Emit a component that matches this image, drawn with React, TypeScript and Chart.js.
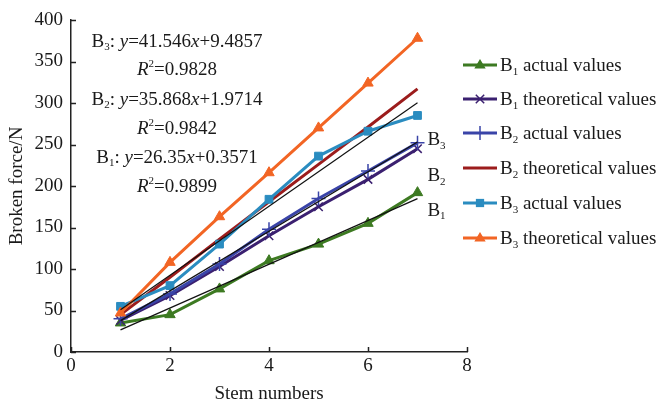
import React, { useEffect, useRef } from "react";
import { Chart, registerables } from "chart.js";

Chart.register(...registerables);

const stems = [1, 2, 3, 4, 5, 6, 7];
const b1Actual = [35, 45, 76, 110, 130, 155, 192];
const b1Theory = [38, 68, 103, 140, 175, 208, 245];
const b2Actual = [40, 70, 106, 148, 185, 218, 252];
const b2Theory = [45, 90, 136, 181, 226, 271, 317];
const b3Actual = [55, 80, 130, 184, 236, 266, 285];
const b3Theory = [47, 108, 163, 216, 270, 324, 378];
const fitX = [1, 7];
const fitB1 = [26.7, 184.8];
const fitB2 = [37.8, 253.0];
const fitB3 = [51.0, 300.3];
const xTicks = [0, 2, 4, 6, 8];
const yTicks = [0, 50, 100, 150, 200, 250, 300, 350, 400];

const FONT = "'Liberation Serif', 'Times New Roman', serif";
const FS = 19;
const TXT = "#1a1a1a";

type Seg = { t: string; s?: "i" | "sub" | "sup" };

const legendItems: { sub: string; label: string; idx: number }[] = [
  { sub: "1", label: " actual values", idx: 0 },
  { sub: "1", label: " theoretical values", idx: 1 },
  { sub: "2", label: " actual values", idx: 2 },
  { sub: "2", label: " theoretical values", idx: 3 },
  { sub: "3", label: " actual values", idx: 4 },
  { sub: "3", label: " theoretical values", idx: 5 },
];

function segFont(s: Seg, size: number) {
  const sz = s.s === "sub" || s.s === "sup" ? Math.round(size * 0.6) : size;
  return `${s.s === "i" ? "italic " : ""}${sz}px ${FONT}`;
}

function measureRich(ctx: CanvasRenderingContext2D, segs: Seg[], size: number) {
  let w = 0;
  for (const s of segs) {
    ctx.font = segFont(s, size);
    w += ctx.measureText(s.t).width;
  }
  return w;
}

function drawRich(
  ctx: CanvasRenderingContext2D,
  segs: Seg[],
  x: number,
  cy: number,
  size: number,
  align: "left" | "center"
) {
  const w = measureRich(ctx, segs, size);
  let cx = align === "center" ? x - w / 2 : x;
  ctx.textBaseline = "middle";
  ctx.textAlign = "left";
  for (const s of segs) {
    ctx.font = segFont(s, size);
    let dy = 0;
    if (s.s === "sub") dy = size * 0.3;
    if (s.s === "sup") dy = -size * 0.3;
    ctx.fillText(s.t, cx, cy + dy);
    cx += ctx.measureText(s.t).width;
  }
}

function marker(ctx: CanvasRenderingContext2D, style: string, r: number, x: number, y: number, color: string) {
  ctx.save();
  ctx.fillStyle = color;
  ctx.strokeStyle = color;
  ctx.lineWidth = 1.5;
  ctx.beginPath();
  if (style === "triangle") {
    ctx.moveTo(x, y - r);
    ctx.lineTo(x + r * 0.95, y + r * 0.6);
    ctx.lineTo(x - r * 0.95, y + r * 0.6);
    ctx.closePath();
    ctx.fill();
  } else if (style === "rect") {
    ctx.fillRect(x - r * 0.75, y - r * 0.75, r * 1.5, r * 1.5);
  } else if (style === "cross") {
    ctx.moveTo(x, y - r);
    ctx.lineTo(x, y + r);
    ctx.moveTo(x - r, y);
    ctx.lineTo(x + r, y);
    ctx.stroke();
  } else if (style === "crossRot") {
    const d = r * 0.7;
    ctx.moveTo(x - d, y - d);
    ctx.lineTo(x + d, y + d);
    ctx.moveTo(x + d, y - d);
    ctx.lineTo(x - d, y + d);
    ctx.stroke();
  }
  ctx.restore();
}

const overlay = {
  id: "overlay",
  afterDraw(chart: any) {
    const ctx: CanvasRenderingContext2D = chart.ctx;
    const xs = chart.scales.x;
    const ys = chart.scales.y;
    ctx.save();
    // inward tick marks
    ctx.strokeStyle = "#222";
    ctx.lineWidth = 1.5;
    ctx.beginPath();
    for (const v of xTicks) {
      const px = Math.round(xs.getPixelForValue(v)) + 0.5;
      ctx.moveTo(px, ys.bottom);
      ctx.lineTo(px, ys.bottom - 5);
    }
    for (const v of yTicks) {
      const py = Math.round(ys.getPixelForValue(v)) + 0.5;
      ctx.moveTo(xs.left, py);
      ctx.lineTo(xs.left + 5, py);
    }
    ctx.stroke();

    ctx.fillStyle = TXT;
    // equations
    const ax = 177;
    const eqs: [Seg[], number][] = [
      [[{ t: "B" }, { t: "3", s: "sub" }, { t: ": " }, { t: "y", s: "i" }, { t: "=41.546" }, { t: "x", s: "i" }, { t: "+9.4857" }], ys.getPixelForValue(374)],
      [[{ t: "R", s: "i" }, { t: "2", s: "sup" }, { t: "=0.9828" }], ys.getPixelForValue(340)],
      [[{ t: "B" }, { t: "2", s: "sub" }, { t: ": " }, { t: "y", s: "i" }, { t: "=35.868" }, { t: "x", s: "i" }, { t: "+1.9714" }], ys.getPixelForValue(304)],
      [[{ t: "R", s: "i" }, { t: "2", s: "sup" }, { t: "=0.9842" }], ys.getPixelForValue(269)],
      [[{ t: "B" }, { t: "1", s: "sub" }, { t: ": " }, { t: "y", s: "i" }, { t: "=26.35" }, { t: "x", s: "i" }, { t: "+0.3571" }], ys.getPixelForValue(234)],
      [[{ t: "R", s: "i" }, { t: "2", s: "sup" }, { t: "=0.9899" }], ys.getPixelForValue(199)],
    ];
    for (const [segs, y] of eqs) drawRich(ctx, segs, ax, y, FS, "center");

    // series labels
    const lbls: [string, number][] = [
      ["3", 255],
      ["2", 212],
      ["1", 170],
    ];
    for (const [s, v] of lbls) {
      drawRich(ctx, [{ t: "B" }, { t: s, s: "sub" }], xs.getPixelForValue(7.2), ys.getPixelForValue(v), FS, "left");
    }

    // legend
    const rows = [65, 99, 133, 168, 203, 238];
    const lx0 = 463;
    const lx1 = 497;
    legendItems.forEach((it, i) => {
      const ds = chart.data.datasets[it.idx];
      const y = rows[i];
      ctx.strokeStyle = ds.borderColor;
      ctx.lineWidth = 3;
      ctx.beginPath();
      ctx.moveTo(lx0, y);
      ctx.lineTo(lx1, y);
      ctx.stroke();
      if (ds.pointRadius > 0) marker(ctx, ds.pointStyle, ds.pointRadius, (lx0 + lx1) / 2, y, ds.borderColor);
      ctx.fillStyle = TXT;
      drawRich(ctx, [{ t: "B" }, { t: it.sub, s: "sub" }, { t: it.label }], lx1 + 3, y + 1, FS, "left");
    });
    ctx.restore();
  },
};

function pts(ys: number[], xs: number[] = stems) {
  return xs.map((x, i) => ({ x, y: ys[i] }));
}

export default function App() {
  const ref = useRef<HTMLCanvasElement>(null);
  useEffect(() => {
    if (!ref.current) return;
    const green = "#3d7a22";
    const purple = "#3b2070";
    const blue = "#3a44a8";
    const red = "#9c1c1c";
    const cyan = "#2a8cc0";
    const orange = "#f26524";
    const chart = new Chart(ref.current, {
      type: "line",
      data: {
        datasets: [
          { label: "B1 actual", data: pts(b1Actual), borderColor: green, backgroundColor: green, pointBackgroundColor: green, borderWidth: 3, pointStyle: "triangle", pointRadius: 6, pointBorderWidth: 1, order: 6 },
          { label: "B1 theoretical", data: pts(b1Theory), borderColor: purple, backgroundColor: purple, borderWidth: 3, pointStyle: "crossRot", pointRadius: 6, pointBorderWidth: 1.5, order: 5 },
          { label: "B2 actual", data: pts(b2Actual), borderColor: blue, backgroundColor: blue, borderWidth: 3, pointStyle: "cross", pointRadius: 7, pointBorderWidth: 1.5, order: 4 },
          { label: "B2 theoretical", data: pts(b2Theory), borderColor: red, backgroundColor: red, borderWidth: 3, pointRadius: 0, order: 3 },
          { label: "B3 actual", data: pts(b3Actual), borderColor: cyan, backgroundColor: cyan, pointBackgroundColor: cyan, borderWidth: 3, pointStyle: "rect", pointRadius: 5.5, pointBorderWidth: 1, order: 2 },
          { label: "B3 theoretical", data: pts(b3Theory), borderColor: orange, backgroundColor: orange, pointBackgroundColor: orange, borderWidth: 3, pointStyle: "triangle", pointRadius: 6, pointBorderWidth: 1, order: 1 },
          { label: "fit1", data: pts(fitB1, fitX), borderColor: "#111", borderWidth: 1.2, pointRadius: 0, order: 0 },
          { label: "fit2", data: pts(fitB2, fitX), borderColor: "#111", borderWidth: 1.2, pointRadius: 0, order: 0 },
          { label: "fit3", data: pts(fitB3, fitX), borderColor: "#111", borderWidth: 1.2, pointRadius: 0, order: 0 },
        ] as any,
      },
      options: {
        responsive: false,
        animation: false,
        layout: { padding: { top: 20, right: 192, left: 0, bottom: 0 } },
        plugins: { legend: { display: false }, tooltip: { enabled: false } },
        scales: {
          x: {
            type: "linear",
            min: 0,
            max: 8,
            afterBuildTicks: (s: any) => { s.ticks = xTicks.map((v) => ({ value: v })); },
            afterFit: (s: any) => { s.height = 51; },
            grid: { display: false, drawTicks: false },
            border: { display: true, color: "#222", width: 1.5 },
            ticks: { color: TXT, font: { family: FONT, size: FS }, padding: 3, maxRotation: 0 },
            title: { display: true, text: "Stem numbers", color: TXT, font: { family: FONT, size: FS }, padding: { top: 0, bottom: -2 } },
          },
          y: {
            type: "linear",
            min: 0,
            max: 400,
            afterBuildTicks: (s: any) => { s.ticks = yTicks.map((v) => ({ value: v })); },
            afterFit: (s: any) => { s.width = 71; },
            grid: { display: false, drawTicks: false },
            border: { display: true, color: "#222", width: 1.5 },
            ticks: { color: TXT, font: { family: FONT, size: FS }, padding: 8 },
            title: { display: true, text: "Broken force/N", color: TXT, font: { family: FONT, size: FS }, padding: { top: 6, bottom: 0 } },
          },
        },
      } as any,
      plugins: [overlay],
    });
    return () => chart.destroy();
  }, []);
  return (
    <div style={{ position: "fixed", left: 0, top: 0, width: 659, height: 403, background: "#fff" }}>
      <canvas ref={ref} width={659} height={403} style={{ display: "block" }} />
    </div>
  );
}
